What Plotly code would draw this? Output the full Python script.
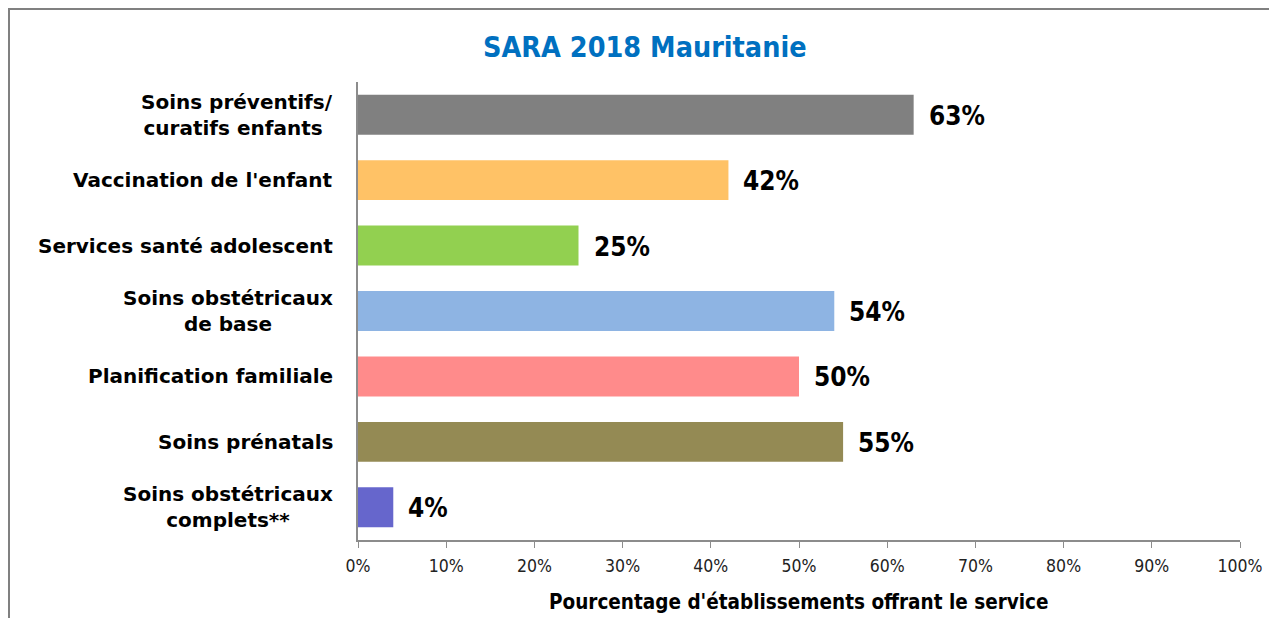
import plotly.graph_objects as go

categories = [
    "Soins préventifs/<br>curatifs enfants ",
    "Vaccination de l'enfant",
    "Services santé adolescent",
    "Soins obstétricaux<br>de base",
    "Planification familiale",
    "Soins prénatals",
    "Soins obstétricaux<br>complets**",
]
values = [63, 42, 25, 54, 50, 55, 4]
colors = ["#808080", "#FFC266", "#92D050", "#8EB4E3", "#FF8B8B", "#948A54", "#6666CC"]
tick_vals = [0, 10, 20, 30, 40, 50, 60, 70, 80, 90, 100]
tick_text = [f"{v}%" for v in tick_vals]

# page body has an 8px margin; the figure is sized so that it lands on the reference layout
OFF = 8
W, H = 1277 - OFF, 618 - OFF
L, R, T, B = 358 - OFF, 37, 82 - OFF, 78
pw, ph = W - L - R, H - T - B

COND = "DejaVu Sans Condensed, Liberation Sans Narrow, Arial Narrow, sans-serif"
WIDE = "DejaVu Sans, Verdana, Arial, sans-serif"

fig = go.Figure()
fig.add_trace(go.Bar(
    x=values, y=categories, orientation="h",
    marker=dict(color=colors, line=dict(width=0)),
    hoverinfo="skip",
))

annotations = []
for c, v in zip(categories, values):
    annotations.append(dict(
        x=v, y=c, xref="x", yref="y", text=f"<b>{v}%</b>", showarrow=False,
        xanchor="left", yanchor="middle", xshift=13, yshift=-1,
        font=dict(family=COND, size=26, color="#000000"),
    ))
    annotations.append(dict(
        x=0, y=c, xref="paper", yref="y", text=f"<b>{c}</b>", showarrow=False,
        xanchor="right", yanchor="middle", align="center", xshift=-23,
        font=dict(family=WIDE, size=20, color="#000000"),
    ))

annotations.append(dict(
    x=(645 - OFF - L) / pw, y=(H - B - (48 - OFF)) / ph, xref="paper", yref="paper",
    text="<b>SARA 2018 Mauritanie</b>", showarrow=False,
    xanchor="center", yanchor="middle",
    font=dict(family=COND, size=28.5, color="#0070C0"),
))
annotations.append(dict(
    x=(799 - OFF - L) / pw, y=(H - B - (602 - OFF)) / ph, xref="paper", yref="paper",
    text="<b>Pourcentage d'établissements offrant le service</b>", showarrow=False,
    xanchor="center", yanchor="middle",
    font=dict(family=COND, size=20.5, color="#000000"),
))

fig.update_layout(
    width=W, height=H,
    margin=dict(l=L, r=R, t=T, b=B, pad=0),
    paper_bgcolor="white", plot_bgcolor="white",
    showlegend=False,
    bargap=0.39,
    annotations=annotations,
    xaxis=dict(
        range=[0, 100], tickvals=tick_vals, ticktext=tick_text,
        showgrid=False, zeroline=False,
        showline=True, linecolor="#8C8C8C", linewidth=2,
        ticks="outside", ticklen=6, tickcolor="#8C8C8C", tickwidth=1,
        ticklabelstandoff=3,
        tickfont=dict(family=COND, size=17.5, color="#222222"),
        fixedrange=True,
    ),
    yaxis=dict(
        categoryorder="array", categoryarray=categories[::-1],
        showticklabels=False, showgrid=False, zeroline=False,
        showline=True, linecolor="#8C8C8C", linewidth=2, ticks="",
        fixedrange=True,
    ),
    shapes=[dict(
        type="rect", xref="paper", yref="paper",
        x0=(1 - L) / pw, x1=(W + 20 - L) / pw,
        y0=(-(20 + B)) / ph, y1=(H - B - 1) / ph,
        line=dict(color="#808080", width=2), fillcolor="rgba(0,0,0,0)",
        layer="below",
    )],
)

fig.write_html("out.html")
